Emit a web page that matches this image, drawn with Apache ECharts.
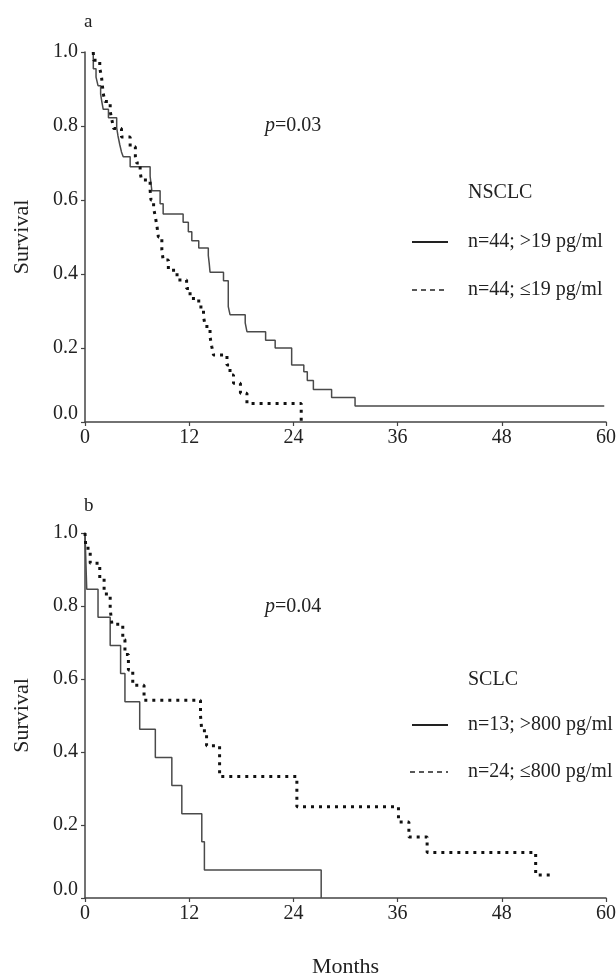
<!DOCTYPE html>
<html>
<head>
  <meta charset="utf-8">
  <title>survival</title>
  <script src="https://cdn.jsdelivr.net/npm/echarts@6/dist/echarts.min.js"></script>
  <style>
    html, body { margin: 0; padding: 0; background: #fff; }
    #main { width: 616px; height: 977px; }
  </style>
</head>
<body>
  <div id="main"></div>
  <script>
    // panel a: NSCLC, [months, survival]
    var nsclcHigh = [[0.95, 1], [0.96, 0.955], [1.27, 0.932], [1.5, 0.909], [1.8, 0.886], [1.95, 0.864],
      [2.1, 0.845], [2.7, 0.822], [3.65, 0.795], [3.8, 0.773], [4.0, 0.75], [4.2, 0.73], [4.4, 0.717],
      [5.2, 0.69], [7.5, 0.664], [7.7, 0.625], [8.65, 0.59], [9.0, 0.562], [11.3, 0.54], [11.9, 0.514],
      [12.3, 0.49], [13.1, 0.47], [14.2, 0.45], [14.3, 0.43], [14.4, 0.405], [15.95, 0.382], [16.5, 0.312],
      [16.7, 0.29], [18.45, 0.268], [18.65, 0.244], [20.8, 0.221], [21.9, 0.2], [23.8, 0.154], [25.2, 0.136],
      [25.6, 0.112], [26.3, 0.088], [28.4, 0.066], [31.1, 0.043], [59.8, 0.043]];
    var nsclcLow = [[0.95, 1], [1.0, 0.978], [1.7, 0.956], [1.9, 0.933], [2.0, 0.91], [2.1, 0.888], [2.3, 0.866],
      [2.9, 0.84], [3.1, 0.816], [3.3, 0.793], [4.2, 0.77], [5.2, 0.744], [5.8, 0.717], [5.95, 0.7],
      [6.35, 0.676], [6.5, 0.654], [7.5, 0.627], [7.6, 0.6], [7.9, 0.578], [8.1, 0.555], [8.3, 0.527],
      [8.45, 0.5], [8.85, 0.465], [9.0, 0.438], [9.6, 0.41], [10.6, 0.384], [11.7, 0.361], [12.1, 0.334],
      [13.1, 0.311], [13.65, 0.285], [13.85, 0.258], [14.4, 0.23], [14.6, 0.204], [14.8, 0.181], [16.35, 0.154],
      [16.7, 0.127], [17.1, 0.105], [17.9, 0.078], [18.65, 0.05], [24.9, 0]];

    // panel b: SCLC
    var sclcHigh = [[0, 1], [0.2, 0.846], [1.5, 0.769], [2.9, 0.692], [4.1, 0.615], [4.6, 0.538], [6.3, 0.462],
      [8.1, 0.385], [10.0, 0.308], [11.15, 0.231], [13.45, 0.154], [13.75, 0.077], [27.2, 0]];
    var sclcLow = [[0, 1], [0.1, 0.958], [0.6, 0.917], [1.7, 0.875], [2.2, 0.833], [2.9, 0.792], [3.1, 0.75],
      [4.35, 0.708], [4.6, 0.667], [5.0, 0.625], [5.5, 0.583], [6.8, 0.542], [13.3, 0.5], [13.45, 0.458],
      [14.0, 0.417], [15.5, 0.333], [24.4, 0.25], [36.1, 0.208], [37.3, 0.167], [39.4, 0.125], [51.9, 0.063],
      [54.0, 0.063]];

    var legendA = ['NSCLC', 'n=44; >19 pg/ml', 'n=44; \u226419 pg/ml'];
    var legendB = ['SCLC', 'n=13; >800 pg/ml', 'n=24; \u2264800 pg/ml'];

    var serif = '"Liberation Serif", "Times New Roman", serif';
    var ink = '#222';

    var myChart = echarts.init(document.getElementById('main'));

    function xAx(idx, withName) {
      return {
        type: 'value', gridIndex: idx, min: 0, max: 60, interval: 12,
        name: withName ? 'Months' : '',
        nameLocation: 'middle', nameGap: 58,
        nameTextStyle: { fontFamily: serif, fontSize: 22, color: ink },
        axisLine: { show: true, onZero: false, lineStyle: { color: '#444', width: 1.5 } },
        axisTick: { show: true, length: 4, lineStyle: { color: '#444', width: 1.2 } },
        axisLabel: { margin: 6, fontFamily: serif, fontSize: 20, color: ink },
        splitLine: { show: false }
      };
    }
    function yAx(idx) {
      return {
        type: 'value', gridIndex: idx, min: 0, max: 1, interval: 0.2,
        name: 'Survival', nameLocation: 'middle', nameGap: 52,
        nameTextStyle: { fontFamily: serif, fontSize: 22, color: ink },
        axisLine: { show: true, lineStyle: { color: '#444', width: 1.5 } },
        axisTick: { show: true, length: 4, lineStyle: { color: '#444', width: 1.2 } },
        axisLabel: {
          margin: 7, fontFamily: serif, fontSize: 20, color: ink,
          formatter: function (v) { return v === 0 ? '{z|0.0}' : v.toFixed(1); },
          rich: { z: { fontFamily: serif, fontSize: 20, color: ink, padding: [0, 0, 16, 0] } }
        },
        splitLine: { show: false }
      };
    }
    function solid(name, idx, data) {
      return {
        name: name, type: 'line', step: 'end', xAxisIndex: idx, yAxisIndex: idx,
        data: data, symbol: 'none', silent: true,
        lineStyle: { color: '#4a4a4a', width: 1.5 }
      };
    }
    function dotted(name, idx, data) {
      return {
        name: name, type: 'line', step: 'end', xAxisIndex: idx, yAxisIndex: idx,
        data: data, symbol: 'none', silent: true,
        lineStyle: { color: '#111', width: 3, type: [3, 5], cap: 'butt' }
      };
    }
    function txt(x, y, text, size, extra) {
      var style = {
        x: x, y: y, text: text, fill: ink,
        font: size + 'px ' + serif, fontFamily: serif, fontSize: size,
        align: 'left', verticalAlign: 'middle', textAlign: 'left', textVerticalAlign: 'middle'
      };
      if (extra) { for (var k in extra) style[k] = extra[k]; }
      return { type: 'text', style: style, silent: true };
    }
    function seg(x1, y1, x2, y2, dash) {
      return {
        type: 'line', silent: true,
        shape: { x1: x1, y1: y1, x2: x2, y2: y2 },
        style: { stroke: ink, lineWidth: dash ? 1.5 : 2, lineDash: dash ? [5, 4] : null }
      };
    }
    var pRich = { i: { fontStyle: 'italic', fontFamily: serif, fontSize: 20, fill: ink, color: ink } };

    var option = {
      animation: false,
      backgroundColor: '#fff',
      grid: [
        { left: 85, top: 52, width: 521, height: 370, containLabel: false, outerBoundsMode: 'none' },
        { left: 85, top: 533, width: 521, height: 365, containLabel: false, outerBoundsMode: 'none' }
      ],
      xAxis: [xAx(0, false), xAx(1, true)],
      yAxis: [yAx(0), yAx(1)],
      series: [
        solid(legendA[1], 0, nsclcHigh),
        dotted(legendA[2], 0, nsclcLow),
        solid(legendB[1], 1, sclcHigh),
        dotted(legendB[2], 1, sclcLow)
      ],
      graphic: [
        txt(84, 22, 'a', 19),
        txt(84, 506, 'b', 19),
        txt(265, 126, '{i|p}=0.03', 20, { rich: pRich }),
        txt(265, 607, '{i|p}=0.04', 20, { rich: pRich }),
        txt(468, 193, legendA[0], 20),
        seg(412, 242, 448, 242, false),
        txt(468, 242, legendA[1], 20),
        seg(412, 290, 448, 290, true),
        txt(468, 290, legendA[2], 20),
        txt(468, 680, legendB[0], 20),
        seg(412, 725, 448, 725, false),
        txt(468, 725, legendB[1], 20),
        seg(410, 772, 448, 772, true),
        txt(468, 772, legendB[2], 20)
      ]
    };
    myChart.setOption(option);
  </script>
</body>
</html>
